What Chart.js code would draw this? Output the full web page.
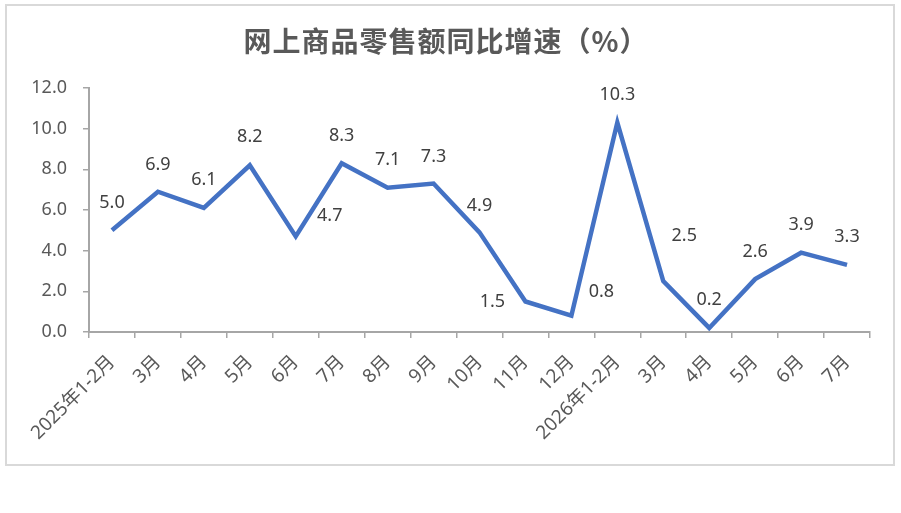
<!DOCTYPE html>
<html><head><meta charset="utf-8">
<script src="https://cdn.jsdelivr.net/npm/chart.js@4/dist/chart.umd.min.js"></script>
<style>html,body{margin:0;padding:0;background:#fff;}canvas{display:block;}</style>
</head><body>
<canvas id="c" width="901" height="513"></canvas>
<script>
const chartTitle = '网上商品零售额同比增速（%）';
const categories = ['2025年1-2月','3月','4月','5月','6月','7月','8月','9月','10月','11月','12月','2026年1-2月','3月','4月','5月','6月','7月'];
const growth = [5.0, 6.9, 6.1, 8.2, 4.7, 8.3, 7.1, 7.3, 4.9, 1.5, 0.8, 10.3, 2.5, 0.2, 2.6, 3.9, 3.3];
const yTicks = [0, 2, 4, 6, 8, 10, 12];
// label placement relative to each point (pixels)
const labelOffsets = [[0,-27],[0,-27],[0,-28],[0,-28],[34,-21],[0,-27],[0,-28],[0,-27],[0,-26],[-33,0],[30,-24],[0,-28],[21,-45],[0,-28],[0,-27],[0,-28],[0,-28]];

const FONT = '"Noto Sans", "Noto Sans CJK SC", sans-serif';

const decor = {
  id: 'decor',
  beforeDraw(chart) {
    const ctx = chart.ctx;
    ctx.save();
    ctx.fillStyle = '#fff';
    ctx.fillRect(0, 0, chart.width, chart.height);
    ctx.strokeStyle = '#d9d9d9';
    ctx.lineWidth = 2;
    ctx.strokeRect(6, 5, 888, 460);
    ctx.restore();
  },
  afterDraw(chart) {
    const ctx = chart.ctx;
    ctx.save();
    ctx.fillStyle = '#595959';
    ctx.font = 'bold 28px "Noto Sans CJK SC", sans-serif';
    ctx.letterSpacing = '1px';
    ctx.textAlign = 'center';
    ctx.textBaseline = 'middle';
    ctx.fillText(chartTitle, 446, 41);
    ctx.letterSpacing = '0px';
    // data labels
    const meta = chart.getDatasetMeta(0);
    ctx.font = '18px ' + FONT;
    ctx.fillStyle = '#404040';
    meta.data.forEach((pt, i) => {
      const o = labelOffsets[i];
      ctx.fillText(growth[i].toFixed(1), pt.x + o[0], pt.y + o[1]);
    });
    ctx.restore();
  }
};

new Chart(document.getElementById('c'), {
  type: 'line',
  data: {
    labels: categories,
    datasets: [{
      data: growth,
      borderColor: '#4472C4',
      borderWidth: 4.5,
      pointRadius: 0,
      tension: 0,
      fill: false
    }]
  },
  options: {
    responsive: false,
    animation: false,
    devicePixelRatio: 1,
    layout: { padding: { left: 0, right: 31, top: 88, bottom: 0 } },
    plugins: { legend: { display: false }, title: { display: false }, tooltip: { enabled: false } },
    scales: {
      x: {
        type: 'category',
        offset: true,
        grid: { offset: true, drawOnChartArea: false, drawTicks: true, tickLength: 6, color: '#a6a6a6', lineWidth: 1.5 },
        border: { color: '#a6a6a6', width: 2 },
        ticks: {
          color: '#595959', font: { family: FONT, size: 19 },
          maxRotation: 45, minRotation: 45, autoSkip: false, padding: 13
        },
        afterFit(s) { s.height = 181; }
      },
      y: {
        min: 0, max: 12,
        afterBuildTicks(s) { s.ticks = yTicks.map(v => ({ value: v })); },
        grid: { drawOnChartArea: false, drawTicks: true, tickLength: 6, color: '#a6a6a6', lineWidth: 1.5 },
        border: { color: '#a6a6a6', width: 2 },
        ticks: {
          color: '#595959', font: { family: FONT, size: 18 }, padding: 16,
          callback: v => Number(v).toFixed(1)
        },
        afterFit(s) { s.width = 89; }
      }
    }
  },
  plugins: [decor]
});
</script>
</body></html>
